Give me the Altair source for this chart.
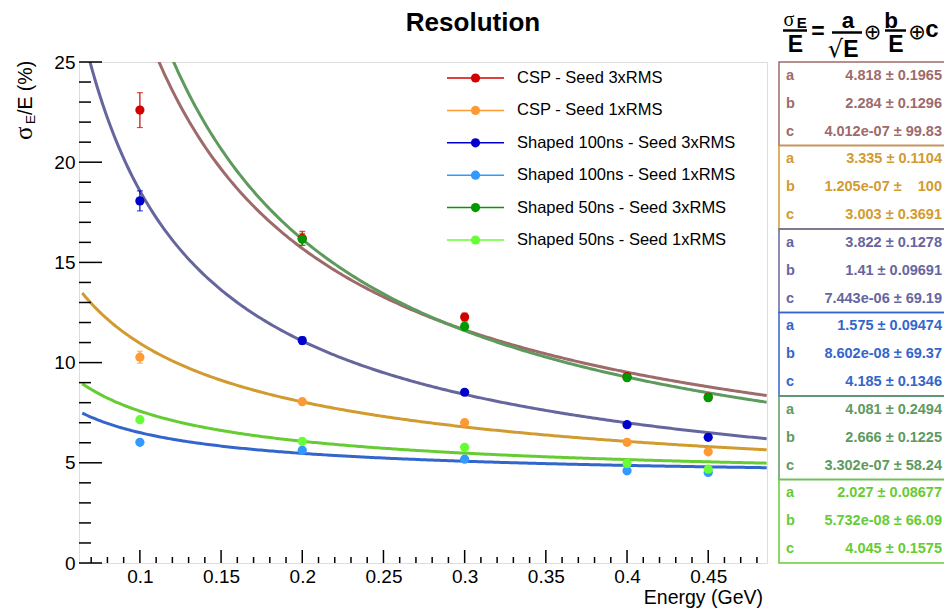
import altair as alt
import pandas as pd
import numpy as np

# ---------------- data ----------------
energies = [0.1, 0.2, 0.3, 0.4, 0.45]
series_names = ["CSP - Seed 3xRMS", "CSP - Seed 1xRMS",
                "Shaped 100ns - Seed 3xRMS", "Shaped 100ns - Seed 1xRMS",
                "Shaped 50ns - Seed 3xRMS", "Shaped 50ns - Seed 1xRMS"]
point_colors = ["#D40000", "#FF9933", "#0000CC", "#3399FF", "#009900", "#66FF33"]

csp3_res = [22.6, 16.2, 12.27, 9.3, 8.28]
csp3_err = [0.87, 0.35, 0.2, 0.15, 0.15]
csp1_res = [10.27, 8.05, 7.0, 6.02, 5.55]
csp1_err = [0.3, 0.12, 0.1, 0.08, 0.08]
sh100_3_res = [18.07, 11.1, 8.52, 6.9, 6.27]
sh100_3_err = [0.5, 0.18, 0.12, 0.1, 0.1]
sh100_1_res = [6.02, 5.63, 5.18, 4.6, 4.52]
sh100_1_err = [0.12, 0.08, 0.07, 0.06, 0.06]
sh50_3_res = [None, 16.15, 11.8, 9.25, 8.25]
sh50_3_err = [None, 0.3, 0.2, 0.15, 0.15]
sh50_1_res = [7.15, 6.07, 5.77, 4.97, 4.68]
sh50_1_err = [0.12, 0.08, 0.07, 0.06, 0.06]

all_res = [csp3_res, csp1_res, sh100_3_res, sh100_1_res, sh50_3_res, sh50_1_res]
all_err = [csp3_err, csp1_err, sh100_3_err, sh100_1_err, sh50_3_err, sh50_1_err]

# fit parameters (as printed in the stat boxes)
fit_names = ["fit CSP 3x", "fit CSP 1x", "fit 100ns 3x", "fit 100ns 1x", "fit 50ns 3x", "fit 50ns 1x"]
fit_colors = ["#9E6A6A", "#D29B2F", "#66669E", "#3366CC", "#5E9A5E", "#66CC33"]
fit_a = ["4.818", "3.335", "3.822", "1.575", "4.081", "2.027"]
fit_a_err = ["0.1965", "0.1104", "0.1278", "0.09474", "0.2494", "0.08677"]
fit_b = ["2.284", "1.205e-07", "1.41", "8.602e-08", "2.666", "5.732e-08"]
fit_b_err = ["0.1296", "\u00a0\u00a0\u00a0100", "0.09691", "69.37", "0.1225", "66.09"]
fit_c = ["4.012e-07", "3.003", "7.443e-06", "4.185", "3.302e-07", "4.045"]
fit_c_err = ["99.83", "0.3691", "69.19", "0.1346", "58.24", "0.1575"]

x_major = [0.1, 0.15, 0.2, 0.25, 0.3, 0.35, 0.4, 0.45]
x_minor = [round(0.07 + 0.01 * i, 2) for i in range(42) if round(0.07 + 0.01 * i, 2) not in x_major]
y_major = [0, 5, 10, 15, 20, 25]
y_minor = [v for v in range(1, 25) if v % 5 != 0]

# ---------------- frames ----------------
rows = []
for name, res, err in zip(series_names, all_res, all_err):
    for e, r, d in zip(energies, res, err):
        if r is None:
            continue
        rows.append({"series": name, "E": e, "res": r, "lo": r - d, "hi": r + d})
pts = pd.DataFrame(rows)

fits = pd.DataFrame({"fit": fit_names, "a": [float(v) for v in fit_a],
                     "b": [float(v) for v in fit_b], "c": [float(v) for v in fit_c],
                     "idx": list(range(6))})
grid = pd.DataFrame({"E": np.linspace(0.0645, 0.486, 300)})
curve_df = fits.merge(grid, how="cross")

stat_rows = []
for i, f in enumerate(fit_names):
    for k, (lab, v, e) in enumerate([("a", fit_a[i], fit_a_err[i]),
                                      ("b", fit_b[i], fit_b_err[i]),
                                      ("c", fit_c[i], fit_c_err[i])]):
        stat_rows.append({"fit": f, "idx": i, "k": k, "lab": lab, "txt": f"{v} \u00b1 {e}"})
stats = pd.DataFrame(stat_rows)

legend_df = pd.DataFrame({"series": series_names, "idx": list(range(6))})

# ---------------- layout ----------------
W, H = 688, 501
FONT = "Liberation Sans"

xscale = alt.Scale(domain=[0.0625, 0.4862], nice=False, zero=False)
yscale = alt.Scale(domain=[0, 25], nice=False, zero=True)
xaxis = alt.Axis(values=x_major, format="~g", ticks=False, tickSize=0, domain=False, grid=False,
                 labelFontSize=19, labelPadding=4, labelColor="black", labelFont=FONT,
                 title=None, labelFlush=False)
yaxis = alt.Axis(values=y_major, ticks=False, tickSize=0, domain=False, grid=False,
                 labelFontSize=19, labelPadding=4, labelColor="black", labelFont=FONT,
                 title=None)

pcolor = alt.Color("series:N", scale=alt.Scale(domain=series_names, range=point_colors), legend=None)
fcolor = alt.Color("fit:N", scale=alt.Scale(domain=fit_names, range=fit_colors), legend=None)

X = lambda f: alt.X(f, scale=xscale, axis=xaxis)
Y = lambda f: alt.Y(f, scale=yscale, axis=yaxis)

curves = alt.Chart(curve_df).transform_calculate(
    fres="sqrt(pow(datum.a/sqrt(datum.E),2)+pow(datum.b/datum.E,2)+pow(datum.c,2))"
).mark_line(strokeWidth=3, clip=True).encode(
    x=X("E:Q"), y=Y("fres:Q"), color=fcolor, detail="fit:N")

errbars = alt.Chart(pts).mark_rule(strokeWidth=1.2, clip=True).encode(
    x=X("E:Q"), y=Y("lo:Q"), y2="hi:Q", color=pcolor)
cap_lo = alt.Chart(pts).mark_tick(orient="horizontal", size=6, thickness=1.2).encode(
    x=X("E:Q"), y=Y("lo:Q"), color=pcolor)
cap_hi = alt.Chart(pts).mark_tick(orient="horizontal", size=6, thickness=1.2).encode(
    x=X("E:Q"), y=Y("hi:Q"), color=pcolor)
points = alt.Chart(pts).mark_circle(size=85, opacity=1).encode(
    x=X("E:Q"), y=Y("res:Q"), color=pcolor)

def xticks(vals, length):
    return alt.Chart(pd.DataFrame({"v": vals})).mark_rule(color="black", strokeWidth=1.5).encode(
        x=X("v:Q"), y=alt.value(H), y2=alt.value(H - length))

def yticks(vals, length):
    return alt.Chart(pd.DataFrame({"v": vals})).mark_rule(color="black", strokeWidth=1.5).encode(
        y=Y("v:Q"), x=alt.value(0), x2=alt.value(length))

# legend (manual, ROOT style)
leg_base = alt.Chart(legend_df).transform_calculate(ly="16 + datum.idx * 32.4")
leg_line = leg_base.mark_rule(strokeWidth=1.5).encode(
    x=alt.value(368), x2=alt.value(425), y=alt.Y("ly:Q", scale=None, axis=None), color=pcolor)
leg_pt = leg_base.mark_circle(size=85, opacity=1).encode(
    x=alt.value(396.5), y=alt.Y("ly:Q", scale=None, axis=None), color=pcolor)
leg_txt = leg_base.mark_text(align="left", baseline="middle", fontSize=16.5, font=FONT, color="black").encode(
    x=alt.value(438), y=alt.Y("ly:Q", scale=None, axis=None), text="series:N")

# stat boxes
box_h = H / 6
boxes = alt.Chart(fits).transform_calculate(
    by0=f"datum.idx * {box_h}", by1=f"(datum.idx + 1) * {box_h}"
).mark_rect(fillOpacity=0, strokeWidth=1.5).encode(
    x=alt.value(700), x2=alt.value(866),
    y=alt.Y("by0:Q", scale=None, axis=None), y2="by1:Q", stroke=fcolor)
stat_base = alt.Chart(stats).transform_calculate(
    ty=f"datum.idx * {box_h} + (datum.k + 0.5) * {box_h / 3}")
stat_lab = stat_base.mark_text(align="left", baseline="middle", fontSize=14.5, fontWeight="bold", font=FONT).encode(
    x=alt.value(707), y=alt.Y("ty:Q", scale=None, axis=None), text="lab:N", color=fcolor)
stat_val = stat_base.mark_text(align="right", baseline="middle", fontSize=14.5, fontWeight="bold", font=FONT).encode(
    x=alt.value(863), y=alt.Y("ty:Q", scale=None, axis=None), text="txt:N", color=fcolor)

one = alt.Data(values=[{}])

def label(txt, x, y, size, bold=False, align="center", angle=0, font=FONT):
    kw = dict(text=txt, fontSize=size, fontWeight="bold" if bold else "normal",
              align=align, baseline="alphabetic", font=font, color="black")
    if angle:
        kw["angle"] = angle
    return alt.Chart(one).mark_text(**kw).encode(x=alt.value(x), y=alt.value(y))

def hbar(x1, x2, y, w=2.5):
    return alt.Chart(one).mark_rule(color="black", strokeWidth=w).encode(
        x=alt.value(x1), x2=alt.value(x2), y=alt.value(y))

texts = [
    label("Resolution", 394, -31, 26, bold=True),
    label("Energy (GeV)", 684, 542, 19.5, align="right"),
    label("\u03c3", -47, 78, 25, align="left", angle=270, font="Liberation Serif"),
    label("E", -44, 62, 13.5, align="left", angle=270),
    label("/E (%)", -47, 53, 19.5, align="left", angle=270),
    # formula
    label("\u03c3", 710, -36.5, 20, font="Liberation Serif"),
    label("E", 722.7, -33.7, 15, bold=True),
    hbar(704, 728, -31.5),
    label("E", 716.5, -10.3, 23, bold=True),
    label("=", 739, -22.7, 23, bold=True),
    label("a", 769, -33.7, 22.5, bold=True),
    hbar(753, 783, -29.5),
    label("\u221a", 756.5, -5, 24, font="DejaVu Sans"),
    label("E", 772, -5.3, 23, bold=True),
    label("\u2295", 793.5, -23, 21, font="DejaVu Sans"),
    label("b", 812, -33.7, 22.5, bold=True),
    hbar(806, 827, -31.5),
    label("E", 817, -10.3, 23, bold=True),
    label("\u2295", 838, -23.5, 21, font="DejaVu Sans"),
    label("c", 853, -25.3, 24, bold=True),
]

chart = alt.layer(
    curves, errbars, cap_lo, cap_hi, points,
    xticks(x_major, 13), xticks(x_minor, 6), yticks(y_major, 23), yticks(y_minor, 12),
    leg_line, leg_pt, leg_txt,
    boxes, stat_lab, stat_val,
    *texts
).resolve_scale(color="independent", stroke="independent").properties(
    width=W, height=H,
    padding={"left": 71, "top": 54, "right": 177, "bottom": 46},
    autosize=alt.AutoSizeParams(type="none"),
    background="white"
).configure_view(stroke="black", strokeWidth=2).configure(font=FONT)

chart.save("out.html", embed_options={"renderer": "svg", "actions": False})
